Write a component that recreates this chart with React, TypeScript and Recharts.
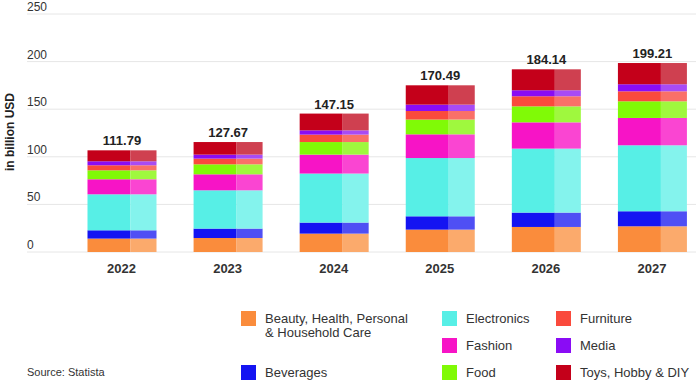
import { BarChart, Bar, XAxis, YAxis, CartesianGrid, LabelList } from 'recharts'

const years = ['2022', '2023', '2024', '2025', '2026', '2027']
const beauty = [14.1, 14.7, 19.3, 23.5, 26.3, 27.0]
const beverages = [8.7, 9.9, 11.6, 14.0, 15.1, 15.8]
const electronics = [37.8, 40.2, 51.5, 61.2, 67.2, 69.3]
const fashion = [15.8, 16.8, 19.9, 24.9, 27.6, 28.7]
const food = [9.4, 10.5, 13.2, 15.5, 16.8, 17.5]
const furniture = [5.3, 6.0, 7.8, 9.0, 10.6, 10.5]
const media = [4.2, 4.2, 4.5, 6.7, 6.3, 7.4]
const toys = [11.5, 13.2, 17.6, 20.3, 22.0, 22.3]
const totals = [111.79, 127.67, 147.15, 170.49, 184.14, 199.21]
const yTicks = [0, 50, 100, 150, 200, 250]

const series = [
  { key: 'beauty', name: 'Beauty, Health, Personal & Household Care', dark: '#fa8c3c', light: '#fbaa6c' },
  { key: 'beverages', name: 'Beverages', dark: '#1414f2', light: '#4f4ff4' },
  { key: 'electronics', name: 'Electronics', dark: '#57efe6', light: '#84f3ed' },
  { key: 'fashion', name: 'Fashion', dark: '#f714c6', light: '#fa45d2' },
  { key: 'food', name: 'Food', dark: '#80fa06', light: '#9ff83e' },
  { key: 'furniture', name: 'Furniture', dark: '#fa4a3c', light: '#fa7068' },
  { key: 'media', name: 'Media', dark: '#8a0cf5', light: '#a84bf5' },
  { key: 'toys', name: 'Toys, Hobby & DIY', dark: '#c4001a', light: '#cf4050' },
]

const rows = years.map((year, i) => ({
  year,
  beauty: beauty[i],
  beverages: beverages[i],
  electronics: electronics[i],
  fashion: fashion[i],
  food: food[i],
  furniture: furniture[i],
  media: media[i],
  toys: toys[i],
}))

const FONT = '"Liberation Sans", Arial, sans-serif'

// each segment is drawn darker on the left, lighter on the right
function TwoTone(props: any) {
  const { x, y, width, height, dark, light } = props
  if (!height || height <= 0) return null
  const w1 = Math.round(width * 0.625)
  return (
    <g>
      <rect x={x} y={y} width={w1} height={height} fill={dark} />
      <rect x={x + w1} y={y} width={width - w1} height={height} fill={light} />
    </g>
  )
}

const TotalLabel = (props: any) => {
  const { x, y, width, index } = props
  return (
    <text x={x + width / 2} y={y - 5} textAnchor="middle" fill="#222"
      style={{ fontFamily: FONT, fontSize: 13, fontWeight: 700 }}>
      {totals[index].toFixed(2)}
    </text>
  )
}

const renderYTick = (props: any) => {
  const { y, payload } = props
  return (
    <text x={27} y={y - 3} textAnchor="start" fill="#333" style={{ fontFamily: FONT, fontSize: 12 }}>
      {payload.value}
    </text>
  )
}

const renderXTick = (props: any) => {
  const { x, payload } = props
  return (
    <text x={x} y={273} textAnchor="middle" fill="#333" style={{ fontFamily: FONT, fontSize: 13, fontWeight: 700 }}>
      {payload.value}
    </text>
  )
}

const legendCols = [
  { left: 241, items: [0, 1] },
  { left: 442, items: [2, 3, 4] },
  { left: 556, items: [5, 6, 7] },
]
const rowTops = [311, 338, 365]

export default function App() {
  return (
    <div style={{ position: 'absolute', left: 0, top: 0, width: 696, height: 382, overflow: 'hidden', background: '#fff', fontFamily: FONT }}>
      <BarChart width={705} height={382} data={rows} barSize={69}
        margin={{ top: 14, right: 0, bottom: 100, left: 0 }}>
        <CartesianGrid vertical={false} stroke="#e6e6e6" />
        <XAxis dataKey="year" axisLine={false} tickLine={false} height={30}
          padding={{ left: 41.5, right: 0 }} tick={renderXTick} interval={0} />
        <YAxis width={27} domain={[0, 250]} ticks={yTicks} interval={0} axisLine={false} tickLine={false} tick={renderYTick} />
        {series.map((s, i) => (
          <Bar key={s.key} dataKey={s.key} stackId="a" fill={s.dark} isAnimationActive={false}
            shape={(p: any) => <TwoTone {...p} dark={s.dark} light={s.light} />}>
            {i === series.length - 1 && <LabelList dataKey={s.key} content={<TotalLabel />} />}
          </Bar>
        ))}
      </BarChart>
      <div style={{
        position: 'absolute', left: 3, top: 132, transform: 'translate(-50%, -50%) rotate(-90deg)',
        transformOrigin: 'center', marginLeft: 7, whiteSpace: 'nowrap',
        fontSize: 12, fontWeight: 700, color: '#222',
      }}>in billion USD</div>
      {legendCols.map((col) => col.items.map((idx, r) => {
        const s = series[idx]
        const top = idx === 1 ? rowTops[2] : rowTops[r]
        return (
          <div key={s.key} style={{ position: 'absolute', left: col.left, top, display: 'flex', alignItems: 'flex-start' }}>
            <div style={{ width: 15, height: 15, background: s.dark, flexShrink: 0 }} />
            <div style={{ marginLeft: 9, fontSize: 13, lineHeight: '14px', color: '#333', width: idx === 0 ? 160 : undefined, whiteSpace: idx === 0 ? 'normal' : 'nowrap', marginTop: 1 }}>
              {idx === 0 ? <>Beauty, Health, Personal<br />&amp; Household Care</> : s.name}
            </div>
          </div>
        )
      }))}
      <div style={{ position: 'absolute', left: 27, top: 366, fontSize: 11, color: '#333' }}>Source: Statista</div>
    </div>
  )
}
